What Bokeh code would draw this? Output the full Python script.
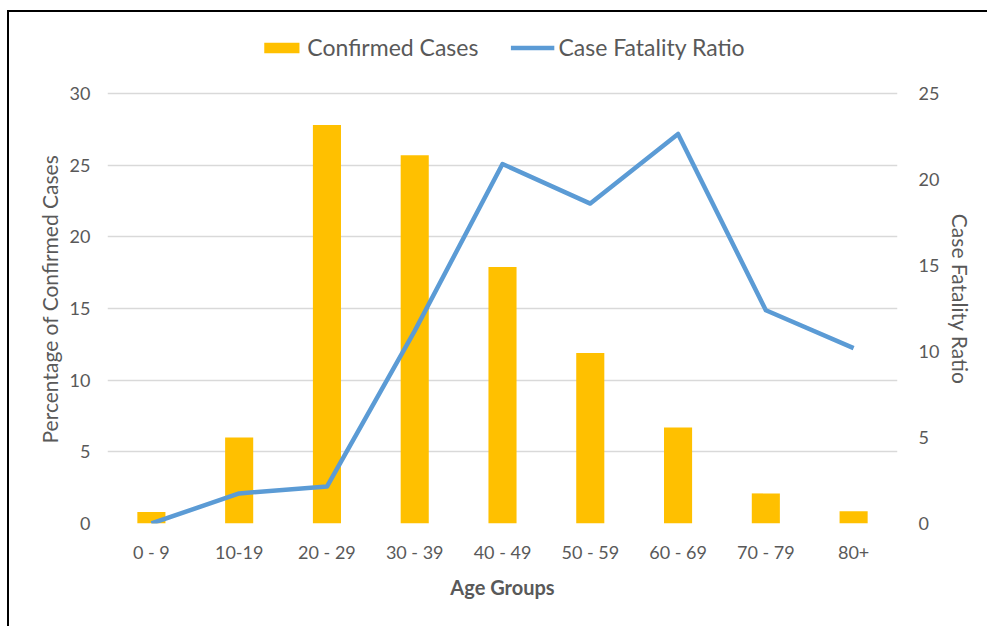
import math
from bokeh.plotting import figure
from bokeh.models import Range1d, LinearAxis, FixedTicker, Legend, LegendItem, ColumnDataSource
from bokeh.embed import file_html
from bokeh.resources import INLINE

age_groups = ["0 - 9", "10-19", "20 - 29", "30 - 39", "40 - 49", "50 - 59", "60 - 69", "70 - 79", "80+"]
confirmed_cases = [0.8, 6.0, 27.8, 25.7, 17.9, 11.9, 6.7, 2.1, 0.85]
case_fatality_ratio = [0.0, 1.75, 2.15, 11.2, 20.9, 18.6, 22.65, 12.4, 10.2]
left_ticks = [0, 5, 10, 15, 20, 25, 30]
right_ticks = [0, 5, 10, 15, 20, 25]

FONT = "Lato"
GRAY = "#595959"
PAD = "\u2003\u2003\u2003\u2004"  # keeps the vertical titles centred on the gridded area

# frame extends above the 30 gridline to hold the legend
LEFT_MAX = 30 * 503 / 430
RIGHT_MAX = 25 * 503 / 430

src = ColumnDataSource(dict(x=age_groups, cases=confirmed_cases, cfr=case_fatality_ratio))

p = figure(x_range=age_groups, y_range=Range1d(0, LEFT_MAX), width=990, height=616,
           output_backend="svg", toolbar_location=None,
           min_border_left=98, min_border_right=102, min_border_top=8, min_border_bottom=105)
p.styles = {"border-left": "2px solid black", "border-top": "2px solid black",
            "margin-top": "10px", "margin-left": "7px"}
p.outline_line_color = None
p.extra_y_ranges = {"right": Range1d(0, RIGHT_MAX)}

bars = p.vbar(x="x", top="cases", width=0.32, source=src, fill_color="#FFC000", line_color=None)
line = p.line(x="x", y="cfr", source=src, y_range_name="right", line_color="#5B9BD5",
              line_width=4.5, line_join="round")

ya = p.yaxis[0]
ya.ticker = FixedTicker(ticks=left_ticks)
ya.axis_label = "Percentage of Confirmed Cases" + PAD

ra = LinearAxis(y_range_name="right", ticker=FixedTicker(ticks=right_ticks),
                axis_label=PAD + "Case Fatality Ratio")
p.add_layout(ra, "right")

xa = p.xaxis[0]
xa.axis_label = "Age Groups"

for ax in [ya, ra, xa]:
    ax.axis_line_color = None
    ax.major_tick_line_color = None
    ax.minor_tick_line_color = None
    ax.major_label_text_font = FONT
    ax.major_label_text_font_size = "18px"
    ax.major_label_text_color = GRAY
    ax.axis_label_text_font = FONT
    ax.axis_label_text_font_size = "21px"
    ax.axis_label_text_color = GRAY
    ax.axis_label_text_font_style = "normal"

xa.axis_label_text_font_style = "bold"
xa.axis_label_text_font_size = "20px"
ya.major_label_standoff = 11
ra.major_label_standoff = 15
xa.major_label_standoff = 11
ya.axis_label_standoff = 5
ra.axis_label_standoff = 6
xa.axis_label_standoff = 9

p.xgrid.grid_line_color = None
p.ygrid.grid_line_color = "#D9D9D9"
p.ygrid.grid_line_width = 1.5
p.ygrid.ticker = FixedTicker(ticks=left_ticks)

legend = Legend(items=[LegendItem(label="Confirmed Cases", renderers=[bars]),
                       LegendItem(label="Case Fatality Ratio", renderers=[line])],
                orientation="horizontal", location="top_center",
                glyph_width=44, glyph_height=13, spacing=32, label_standoff=4,
                label_text_font=FONT, label_text_font_size="23px", label_text_color=GRAY,
                border_line_color=None, background_fill_alpha=0, padding=0, margin=13)
p.add_layout(legend, "center")

open("out.html", "w").write(file_html(p, INLINE))
